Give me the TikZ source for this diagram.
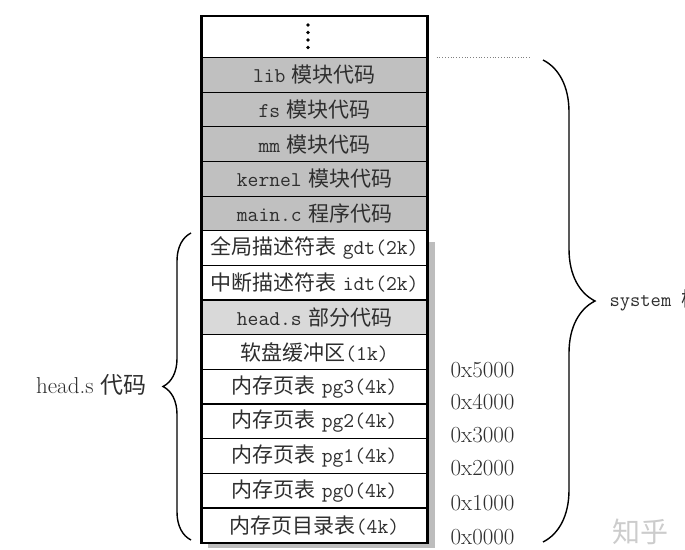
\documentclass[tikz,border=0pt]{standalone}
\usepackage{fontspec}
\newfontfamily\cjk{Noto Sans CJK SC}
\usetikzlibrary{decorations.pathreplacing}
\newcommand{\zhtext}[1]{{\cjk #1}}
\definecolor{darkcell}{HTML}{C0C0C0}
\definecolor{lightcell}{HTML}{D9D9D9}
\definecolor{shadowgray}{HTML}{BDBDBD}
\definecolor{txtgray}{HTML}{2E2E2E}

\begin{document}
\begin{tikzpicture}[x=1pt,y=-1pt,
  cell/.style={draw=black, line width=1.2pt, minimum width=225pt, minimum height=34.64pt,
    inner sep=0pt, anchor=north, text=txtgray, font=\fontsize{21}{24}\selectfont},
  addr/.style={anchor=west, text=txtgray, font=\fontsize{23}{26}\selectfont},
  bracepath/.style={decorate, line width=1.4pt, decoration={brace, amplitude=#1}}
]
  \useasboundingbox (0,0) rectangle (685,549);
  \clip (0,0) rectangle (685,549);

  % Shadow behind the lower cells
  \fill[shadowgray] (208,242) rectangle (435,548);

  % Top cell with the dots
  \node[cell, minimum height=41pt, fill=white] (dots) at (314.5,16) {};
  \foreach \k in {0,...,3}
    \fill (308,25+7.5*\k) circle (1.8pt);

  % Memory cells
  \foreach \nm/\lbl/\fl [count=\i from 0] in {
      lib/{\texttt{lib} \zhtext{模块代码}}/darkcell,
      fs/{\texttt{fs} \zhtext{模块代码}}/darkcell,
      mm/{\texttt{mm} \zhtext{模块代码}}/darkcell,
      kernel/{\texttt{kernel} \zhtext{模块代码}}/darkcell,
      mainc/{\texttt{main.c} \zhtext{程序代码}}/darkcell,
      gdt/{\zhtext{全局描述符表} \texttt{gdt(2k)}}/white,
      idt/{\zhtext{中断描述符表} \texttt{idt(2k)}}/white,
      heads/{\texttt{head.s} \zhtext{部分代码}}/lightcell,
      floppy/{\zhtext{软盘缓冲区}\texttt{(1k)}}/white,
      pgthree/{\zhtext{内存页表} \texttt{pg3(4k)}}/white,
      pgtwo/{\zhtext{内存页表} \texttt{pg2(4k)}}/white,
      pgone/{\zhtext{内存页表} \texttt{pg1(4k)}}/white,
      pgzero/{\zhtext{内存页表} \texttt{pg0(4k)}}/white,
      pgdir/{\zhtext{内存页目录表}\texttt{(4k)}}/white}
    \node[cell, fill=\fl] (\nm) at (314.5,57+34.64*\i) {\lbl};

  % Outer frame
  \draw[line width=2.5pt] (dots.north west) rectangle (pgdir.south east);

  % Dotted mark and addresses
  \coordinate (dotend) at (530,57);
  \draw[gray, dotted, line width=0.8pt] ([xshift=9pt]lib.north east) -- (dotend);
  \foreach \k/\y in {5/370,4/402,3/435,2/468,1/503,0/537}
    \node[addr] (addr\k) at (447,\y) {0x\k000};

  % Braces
  \coordinate (systop) at (543,60);
  \coordinate (sysbot) at (543,542);
  \draw[bracepath=52pt] (systop) -- (sysbot);
  \node[anchor=west, text=txtgray, font=\fontsize{20}{24}\selectfont\ttfamily] (system) at (606,300) {system \zhtext{模块}};

  \coordinate (headbot) at (191,540);
  \coordinate (headtop) at (191,233);
  \draw[bracepath=28pt] (headbot) -- (headtop);
  \node[anchor=east, text=txtgray, font=\fontsize{23}{26}\selectfont] (headlbl) at (150,385) {head.s \zhtext{代码}};

  % Watermark
  \node[text=black!20, font=\fontsize{28}{28}\selectfont\cjk] (zhihu) at (640,532) {知乎};
\end{tikzpicture}
\end{document}
